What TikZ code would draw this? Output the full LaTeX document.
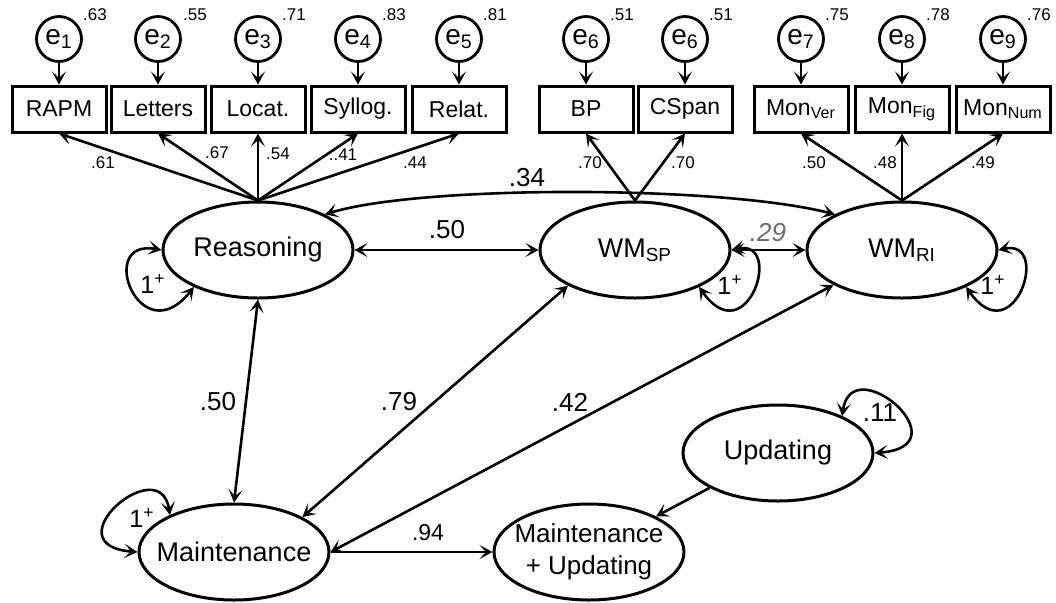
\documentclass[tikz,border=0pt]{standalone}
\usepackage{fontspec}
\setmainfont{Liberation Sans}
\usetikzlibrary{shapes.geometric,arrows.meta}
\definecolor{muted}{gray}{0.42}
\newcommand{\ctr}[1]{\makebox[0pt]{#1}}

\begin{document}
\begin{tikzpicture}[x=0.5pt,y=-0.5pt,line width=1.3pt,
      obs/.style={draw,rectangle,line width=1.5pt,minimum width=47pt,minimum height=23pt,
        inner sep=0pt,font=\fontsize{11.5}{13}\selectfont},
      err/.style={draw,circle,line width=1.4pt,minimum size=22.5pt,inner sep=0pt,
        font=\fontsize{14}{15}\selectfont},
      lat/.style={draw,ellipse,line width=1.5pt,minimum width=95pt,minimum height=48pt,
        inner sep=0pt,font=\fontsize{13.5}{16}\selectfont},
      ld/.style={inner sep=0pt,font=\fontsize{8.5}{10}\selectfont},
      cv/.style={inner sep=0pt,font=\fontsize{13}{15}\selectfont},
      >={Stealth[length=6.5pt,width=7pt,inset=3.2pt]}]
    \useasboundingbox (0,0) rectangle (1056,602);
    % latent variables
    \node[lat](reas)  at (258,250) {\ctr{Reasoning}};
    \node[lat](wmsp)  at (635,250) {\ctr{WM\textsubscript{SP}}};
    \node[lat](wmri)  at (902,250) {\ctr{WM\textsubscript{RI}}};
    \node[lat](maint) at (234,552) {\ctr{Maintenance}};
    \node[lat,font=\fontsize{13}{16}\selectfont](mu) at (589,552)
      {\ctr{\begin{tabular}{@{}c@{}}Maintenance\\+ Updating\end{tabular}}};
    \node[lat](upd)   at (778,453) {\ctr{Updating}};
    % indicators
    \node[obs](rapm)  at (59,109)   {RAPM};
    \node[obs](lett)  at (158,109)  {Letters};
    \node[obs](loc)   at (258,109)  {Locat.};
    \node[obs](syl)   at (358,109)  {Syllog.};
    \node[obs](rel)   at (459,109)  {Relat.};
    \node[obs](bp)    at (586,109)  {BP};
    \node[obs](cspan) at (685,109)  {CSpan};
    \node[obs](mver)  at (801,109)  {Mon\textsubscript{Ver}};
    \node[obs](mfig)  at (902,109)  {Mon\textsubscript{Fig}};
    \node[obs](mnum)  at (1003,109) {Mon\textsubscript{Num}};
    % errors
    \node[err](e1) at (59,39)   {e\textsubscript{1}};
    \node[err](e2) at (158,39)  {e\textsubscript{2}};
    \node[err](e3) at (258,39)  {e\textsubscript{3}};
    \node[err](e4) at (358,39)  {e\textsubscript{4}};
    \node[err](e5) at (459,39)  {e\textsubscript{5}};
    \node[err](e6a) at (586,39) {e\textsubscript{6}};
    \node[err](e6b) at (685,39) {e\textsubscript{6}};
    \node[err](e7) at (801,39)  {e\textsubscript{7}};
    \node[err](e8) at (902,39)  {e\textsubscript{8}};
    \node[err](e9) at (1003,39) {e\textsubscript{9}};
    \node[ld](v1) at (95,15) {.63};   \node[ld](v2) at (195,15) {.55};
    \node[ld](v3) at (294,15) {.71};  \node[ld](v4) at (394,15) {.83};
    \node[ld](v5) at (495,15) {.81};  \node[ld](v6) at (622,15) {.51};
    \node[ld](v7) at (721,15) {.51};  \node[ld](v8) at (837,15) {.75};
    \node[ld](v9) at (938,15) {.78};  \node[ld](v10) at (1039,15) {.76};
    \draw[->](e1)--(rapm);\draw[->](e2)--(lett);\draw[->](e3)--(loc);
    \draw[->](e4)--(syl);\draw[->](e5)--(rel);\draw[->](e6a)--(bp);
    \draw[->](e6b)--(cspan);\draw[->](e7)--(mver);\draw[->](e8)--(mfig);
    \draw[->](e9)--(mnum);
    % loadings
    \draw[->](reas.north)--(rapm.south);\draw[->](reas.north)--(lett.south);
    \draw[->](reas.north)--(loc.south);\draw[->](reas.north)--(syl.south);
    \draw[->](reas.north)--(rel.south);
    \draw[->](wmsp.north)--(bp.south);\draw[->](wmsp.north)--(cspan.south);
    \draw[->](wmri.north)--(mver.south);\draw[->](wmri.north)--(mfig.south);
    \draw[->](wmri.north)--(mnum.south);
    \node[ld](l1) at (103,163) {.61}; \node[ld](l2) at (217,153) {.67};
    \node[ld](l3) at (278,154) {.54}; \node[ld](l4) at (343,155) {..41};
    \node[ld](l5) at (415,163) {.44}; \node[ld](l6) at (590,163) {.70};
    \node[ld](l7) at (683,163) {.70}; \node[ld](l8) at (814,163) {.50};
    \node[ld](l9) at (885,163) {.48}; \node[ld](l10) at (983,163) {.49};
    % covariances
    \draw[<->](reas)--(wmsp);\draw[<->](wmsp)--(wmri);
    \draw[<->](reas.28) .. controls (420,185) and (720,185) .. (wmri.152);
    \draw[<->](reas.south)--(maint.north);
    \draw[<->](wmsp.208)--(maint.27);
    \draw[<->](wmri.207)--(maint.east);
    \draw[->](maint.east)--(mu.west);
    \draw[->](upd.207)--(mu.28);
    \node[cv](c1) at (447,230) {.50};
    \node[cv](c2) at (527,178) {.34};
    \node[cv,muted,font=\fontsize{13}{15}\selectfont\itshape](c3) at (768,233) {.29};
    \node[cv](c4) at (218,402) {.50};
    \node[cv](c5) at (399,402) {.79};
    \node[cv](c6) at (570,402) {.42};
    \node[cv,font=\fontsize{11.5}{13}\selectfont](c7) at (428,533) {.94};
    % variances
    \draw[<->](reas.west) .. controls (95,238) and (140,355) .. (reas.210);
    \draw[<->](wmsp.east) .. controls (785,238) and (747,355) .. (wmsp.330);
    \draw[<->](wmri.east) .. controls (1052,238) and (1014,355) .. (wmri.330);
    \draw[<->](maint.150) .. controls (160,450) and (50,545) .. (maint.west);
    \draw[<->](upd.30) .. controls (852,348) and (965,446) .. (upd.east);
    \node[cv,font=\fontsize{12.5}{14}\selectfont](r1) at (153,284) {1\textsuperscript{+}};
    \node[cv,font=\fontsize{12.5}{14}\selectfont](r2) at (730,285) {1\textsuperscript{+}};
    \node[cv,font=\fontsize{12.5}{14}\selectfont](r3) at (993,285) {1\textsuperscript{+}};
    \node[cv,font=\fontsize{12.5}{14}\selectfont](r4) at (142,518) {1\textsuperscript{+}};
    \node[cv](r5) at (880,413) {.11};
  \end{tikzpicture}
\end{document}
